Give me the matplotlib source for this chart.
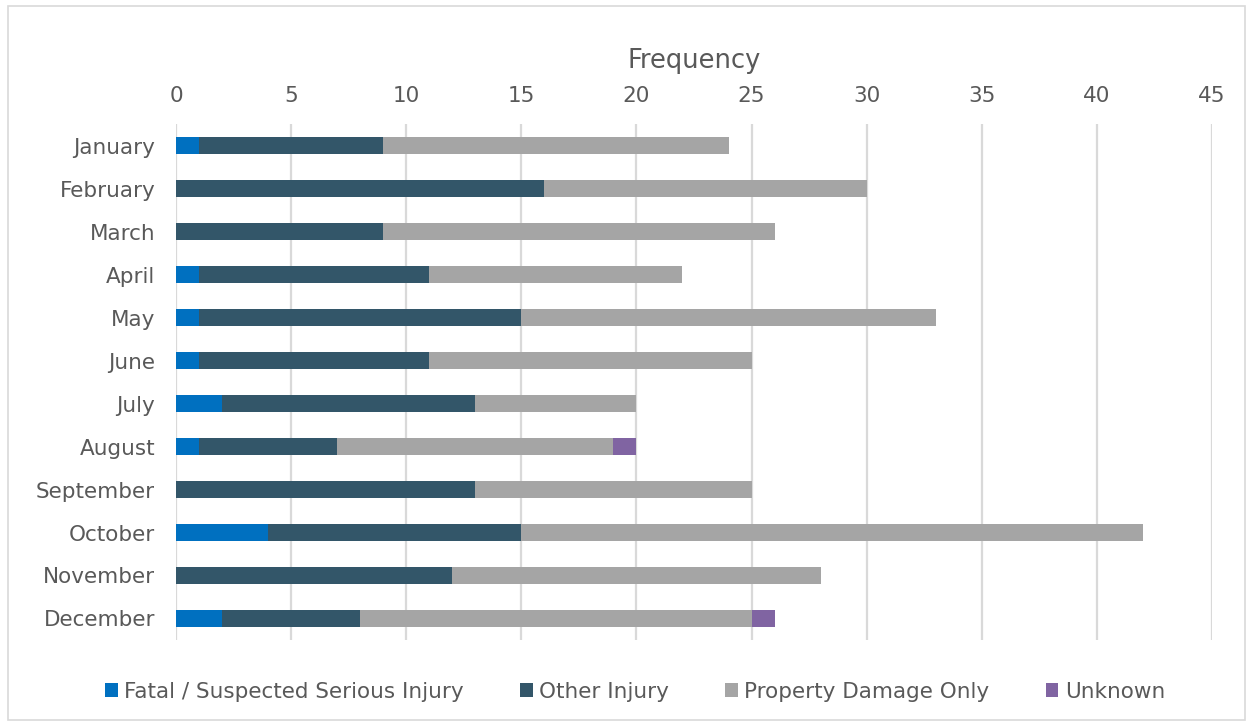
import numpy as np
import matplotlib
matplotlib.use('Agg')
import matplotlib.pyplot as plt
from matplotlib.patches import Rectangle

months = ['January', 'February', 'March', 'April', 'May', 'June', 'July',
          'August', 'September', 'October', 'November', 'December']
fatal = [1, 0, 0, 1, 1, 1, 2, 1, 0, 4, 0, 2]
other_injury = [8, 16, 9, 10, 14, 10, 11, 6, 13, 11, 12, 6]
property_damage = [15, 14, 17, 11, 18, 14, 7, 12, 12, 27, 16, 17]
unknown = [0, 0, 0, 0, 0, 0, 0, 1, 0, 0, 0, 1]

series_names = ['Fatal / Suspected Serious Injury', 'Other Injury',
                'Property Damage Only', 'Unknown']
colors = ['#0070C0', '#335669', '#A5A5A5', '#8064A2']

plt.rcParams['font.family'] = ['DejaVu Sans']
text_col = '#595959'

fig = plt.figure(figsize=(12.5, 7.26), dpi=100)
ax = fig.add_axes([0.1408, 0.1185, 0.8288, 0.7105])

y = np.arange(len(months))
left = np.zeros(len(months))
for vals, name, c in zip([fatal, other_injury, property_damage, unknown], series_names, colors):
    vals = np.array(vals, dtype=float)
    ax.barh(y, vals, left=left, height=0.4, color=c, label=name, zorder=3)
    left += vals

ax.set_xlim(0, 45)
ax.set_ylim(len(months) - 0.5, -0.5)
ax.set_xticks(np.arange(0, 46, 5))
ax.set_yticks(y)
ax.set_yticklabels(months)
ax.xaxis.tick_top()
ax.xaxis.set_label_position('top')
ax.set_xlabel('Frequency', fontsize=18.5, color=text_col, labelpad=13)
ax.tick_params(axis='both', length=0, labelsize=15.5, colors=text_col)
ax.tick_params(axis='x', pad=13)
ax.tick_params(axis='y', pad=15)
ax.grid(axis='x', color='#D9D9D9', linewidth=1.6, zorder=0)
for s in ax.spines.values():
    s.set_visible(False)

fig.legend(loc='center', bbox_to_anchor=(0.508, 0.047), ncol=4, frameon=False,
           fontsize=15.5, handlelength=0.6, handleheight=0.6, handletextpad=0.3,
           columnspacing=2.6, labelcolor=text_col)

fig.patches.append(Rectangle((0.006, 0.008), 0.99, 0.984, transform=fig.transFigure,
                             fill=False, edgecolor='#D9D9D9', linewidth=1.2))

fig.savefig('out.png', dpi=100)
